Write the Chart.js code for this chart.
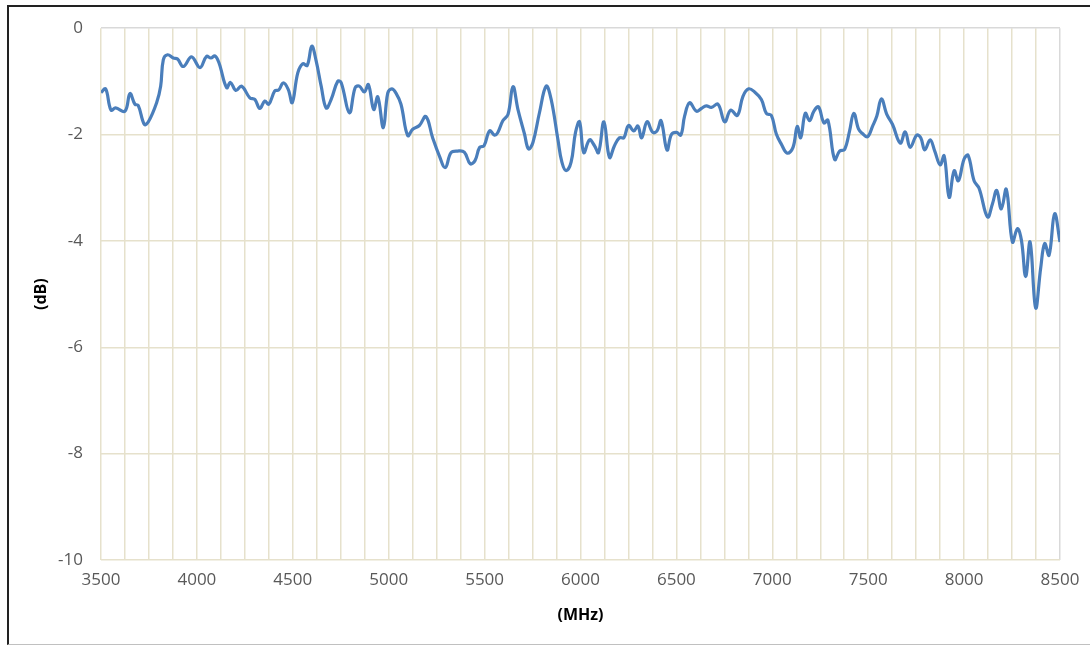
<!DOCTYPE html>
<html lang="en">
<head>
  <meta charset="UTF-8">
  <title>Loss vs frequency</title>
  <style>
    html, body {
      margin: 0;
      padding: 0;
      background: #fff;
      width: 1090px;
      height: 645px;
      overflow: hidden;
    }
    .frame {
      position: absolute;
      left: 7px;
      top: 5px;
      right: 0;
      height: 637px;
      border-left: 2px solid #222;
      border-top: 2px solid #222;
      border-bottom: 1px solid #c0c0c0;
    }
    #lossChart {
      position: absolute;
      left: 0;
      top: 0;
    }
  </style>
  <script src="https://cdn.jsdelivr.net/npm/chart.js"></script>
</head>
<body>
  <div class="frame"></div>
  <canvas id="lossChart" width="1090" height="645"></canvas>

<script>
// frequency (MHz) and level (dB)
const freqs = [
  3500, 3524, 3552, 3576, 3625, 3651, 3677, 3694, 3726, 3747,
  3790, 3811, 3825, 3847, 3877, 3899, 3929, 3972, 4016, 4050,
  4073, 4094, 4115, 4155, 4175, 4203, 4233, 4276, 4302, 4328,
  4354, 4375, 4406, 4427, 4450, 4476, 4497, 4526, 4552, 4575,
  4599, 4622, 4648, 4674, 4700, 4734, 4752, 4795, 4825, 4847,
  4873, 4894, 4922, 4943, 4972, 4995, 5016, 5038, 5064, 5099,
  5125, 5160, 5194, 5229, 5264, 5295, 5325, 5359, 5394, 5425,
  5450, 5474, 5497, 5526, 5552, 5569, 5595, 5622, 5648, 5674,
  5708, 5729, 5752, 5786, 5821, 5847, 5882, 5903, 5925, 5951,
  5974, 5995, 6017, 6047, 6073, 6094, 6122, 6151, 6177, 6203,
  6226, 6250, 6278, 6299, 6319, 6347, 6377, 6399, 6420, 6451,
  6474, 6500, 6523, 6543, 6569, 6604, 6630, 6656, 6682, 6717,
  6752, 6783, 6818, 6847, 6877, 6908, 6943, 6969, 6995, 7021,
  7047, 7078, 7108, 7130, 7148, 7172, 7194, 7217, 7241, 7269,
  7290, 7325, 7351, 7377, 7403, 7425, 7450, 7470, 7497, 7523,
  7545, 7569, 7597, 7627, 7667, 7693, 7719, 7753, 7774, 7795,
  7823, 7847, 7875, 7896, 7922, 7948, 7970, 8000, 8021, 8052,
  8078, 8122, 8148, 8170, 8194, 8220, 8252, 8278, 8299, 8321,
  8344, 8373, 8399, 8420, 8443, 8472, 8500
];
const levels = [
  -1.21, -1.14, -1.54, -1.50, -1.56, -1.23, -1.43, -1.45, -1.81, -1.76,
  -1.40, -1.09, -0.59, -0.50, -0.56, -0.58, -0.72, -0.54, -0.74, -0.53,
  -0.56, -0.52, -0.65, -1.12, -1.02, -1.17, -1.09, -1.31, -1.34, -1.51,
  -1.37, -1.43, -1.18, -1.16, -1.03, -1.15, -1.40, -0.84, -0.67, -0.70,
  -0.34, -0.62, -1.09, -1.50, -1.34, -1.00, -1.02, -1.59, -1.12, -1.09,
  -1.20, -1.06, -1.53, -1.29, -1.87, -1.22, -1.14, -1.22, -1.43, -2.02,
  -1.90, -1.83, -1.66, -2.06, -2.40, -2.62, -2.34, -2.31, -2.33, -2.55,
  -2.49, -2.24, -2.21, -1.93, -2.01, -1.96, -1.74, -1.62, -1.10, -1.53,
  -1.99, -2.27, -2.15, -1.59, -1.09, -1.34, -2.09, -2.52, -2.68, -2.52,
  -1.96, -1.76, -2.34, -2.10, -2.21, -2.34, -1.76, -2.43, -2.21, -2.06,
  -2.06, -1.83, -1.93, -1.84, -2.06, -1.76, -1.96, -1.93, -1.74, -2.29,
  -2.00, -1.96, -2.01, -1.65, -1.40, -1.56, -1.51, -1.46, -1.49, -1.43,
  -1.76, -1.54, -1.64, -1.28, -1.14, -1.20, -1.34, -1.60, -1.64, -1.99,
  -2.18, -2.35, -2.24, -1.85, -2.06, -1.60, -1.74, -1.56, -1.48, -1.78,
  -1.73, -2.47, -2.31, -2.28, -1.93, -1.60, -1.90, -1.98, -2.04, -1.84,
  -1.65, -1.33, -1.62, -1.81, -2.16, -1.95, -2.24, -2.01, -2.06, -2.29,
  -2.10, -2.31, -2.57, -2.40, -3.18, -2.68, -2.87, -2.46, -2.39, -2.87,
  -3.01, -3.55, -3.30, -3.05, -3.40, -3.03, -4.02, -3.77, -3.99, -4.67,
  -4.02, -5.26, -4.52, -4.05, -4.27, -3.49, -4.02
];
const xLabelStep = 500;
const xGridStep = 125;
const yTicks = [0, -2, -4, -6, -8, -10];

const points = freqs.map((f, i) => ({ x: f, y: levels[i] }));
const gridColor = '#e6e1cc';
const edgeColor = '#d9d9d9';

const ctx = document.getElementById('lossChart').getContext('2d');
const lossChart = new Chart(ctx, {
  type: 'line',
  data: {
    datasets: [{
      data: points,
      borderColor: '#4a7ebb',
      borderWidth: 3.2,
      pointRadius: 0,
      tension: 0.4,
      fill: false
    }]
  },
  options: {
    responsive: false,
    animation: false,
    layout: { padding: { left: 0, top: 25, right: 30, bottom: 0 } },
    plugins: {
      legend: { display: false },
      tooltip: { enabled: false }
    },
    scales: {
      x: {
        type: 'linear',
        min: 3500,
        max: 8500,
        border: { display: false },
        grid: {
          drawTicks: false,
          lineWidth: 1.5,
          color: c => (c.tick && c.tick.value === 8500) ? edgeColor : gridColor
        },
        ticks: {
          stepSize: xGridStep,
          autoSkip: false,
          maxRotation: 0,
          padding: 10,
          color: '#595959',
          font: { family: 'Open Sans', size: 17 },
          callback: v => (v % xLabelStep === 0 ? String(v) : '')
        },
        title: {
          display: true,
          text: '(MHz)',
          color: '#000',
          font: { family: 'Open Sans', size: 16, weight: 'bold' },
          padding: { top: 4, bottom: 20 }
        },
        afterFit: s => { s.height = 85; }
      },
      y: {
        min: -10,
        max: 0,
        border: { display: false },
        grid: {
          drawTicks: false,
          lineWidth: 1.5,
          color: c => (c.tick && c.tick.value === 0) ? edgeColor : gridColor
        },
        afterBuildTicks: s => { s.ticks = yTicks.map(v => ({ value: v })); },
        ticks: {
          padding: 18,
          color: '#595959',
          font: { family: 'Open Sans', size: 17 }
        },
        title: {
          display: true,
          text: '(dB)',
          color: '#000',
          font: { family: 'Open Sans', size: 16, weight: 'bold' },
          padding: { top: 32, bottom: 0 }
        },
        afterFit: s => { s.width = 101; }
      }
    }
  }
});
</script>
</body>
</html>
